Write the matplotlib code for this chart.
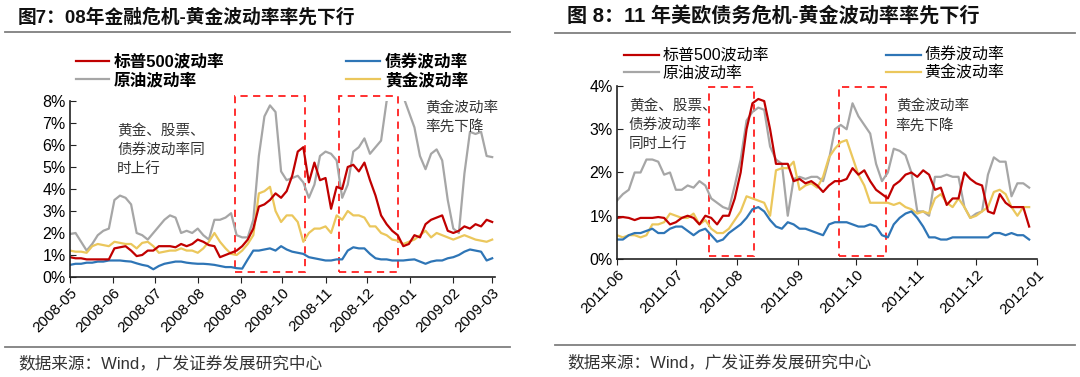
import matplotlib
matplotlib.use("Agg")
import matplotlib.pyplot as plt
import matplotlib.dates as mdates
import pandas as pd
from matplotlib.lines import Line2D
from matplotlib.patches import Rectangle
from matplotlib.ticker import FuncFormatter

plt.rcParams['font.family'] = ['Liberation Sans', 'Noto Sans CJK SC']

# ---- panel 1: 2008 financial crisis (values in %, every 4 days) ----
dates_08 = pd.date_range('2008-05-01', '2009-03-01', freq='4D')
spx_08 = [0.9, 0.85, 0.85, 0.8, 0.8, 0.8, 0.8, 0.8, 1.3, 1.35, 1.4, 1.2, 0.95, 1.0, 1.2, 1.2,
          1.4, 1.4, 1.4, 1.35, 1.5, 1.4, 1.5, 1.7, 1.6, 1.45, 1.4, 0.9, 1.0, 1.1, 1.2, 1.4,
          1.7, 2.2, 3.2, 3.3, 3.5, 3.8, 3.6, 3.9, 4.6, 5.7, 5.9, 4.3, 5.2, 4.4, 4.5, 3.1,
          4.1, 4.0, 5.0, 5.1, 4.8, 5.2, 4.4, 3.7, 2.8, 2.4, 2.1, 1.9, 1.4, 1.5, 1.9, 1.8,
          2.4, 2.6, 2.7, 2.8, 2.1, 2.0, 2.1, 2.3, 2.2, 2.4, 2.3, 2.6, 2.5]
bond_08 = [0.55, 0.6, 0.6, 0.65, 0.65, 0.7, 0.7, 0.75, 0.75, 0.75, 0.72, 0.7, 0.62, 0.55, 0.5, 0.35,
           0.5, 0.6, 0.65, 0.7, 0.7, 0.65, 0.62, 0.6, 0.6, 0.58, 0.55, 0.5, 0.45, 0.45, 0.4, 0.38,
           0.8, 1.2, 1.2, 1.25, 1.3, 1.2, 1.4, 1.25, 1.15, 1.1, 1.05, 0.9, 0.85, 0.8, 0.75, 0.75,
           0.8, 0.8, 1.2, 1.35, 1.3, 1.3, 1.05, 0.85, 0.8, 0.8, 0.75, 0.75, 0.75, 0.78, 0.8, 0.7,
           0.6, 0.7, 0.75, 0.75, 0.85, 0.9, 1.0, 1.15, 1.25, 1.2, 1.15, 0.75, 0.85]
oil_08 = [1.95, 2.0, 1.6, 1.2, 1.5, 1.9, 2.1, 2.2, 3.5, 3.7, 3.6, 3.3, 2.0, 1.9, 1.7, 2.0,
          2.3, 2.6, 2.8, 2.7, 2.0, 2.1, 2.0, 2.2, 1.9, 1.7, 2.6, 2.6, 2.7, 2.9, 1.9, 1.8,
          1.8, 2.6, 5.5, 7.3, 7.8, 7.5, 4.8, 4.4, 4.5, 4.6, 4.3, 3.6, 4.2, 5.5, 5.7, 5.6,
          5.3, 3.6, 4.2, 5.7, 5.9, 6.3, 5.6, 5.9, 6.2, 8.0, 8.3, 8.4, 8.2, 7.5, 6.8, 5.5,
          4.9, 5.6, 5.8, 5.3, 3.5, 2.2, 2.0, 4.7, 6.6, 6.5, 6.6, 5.5, 5.45]
gold_08 = [1.2, 1.15, 1.15, 1.1, 1.4, 1.5, 1.45, 1.4, 1.6, 1.55, 1.5, 1.5, 1.3, 1.55, 1.6, 1.4,
           1.1, 1.15, 1.2, 1.2, 1.3, 1.2, 1.2, 1.1, 1.3, 1.6, 2.0, 1.6, 1.3, 1.05, 1.0, 1.2,
           1.5, 1.9, 3.8, 3.9, 4.1, 3.0, 2.5, 2.8, 2.8, 2.5, 1.6, 2.0, 2.2, 2.2, 2.3, 2.0,
           2.8, 2.6, 3.0, 2.8, 2.8, 2.7, 2.3, 2.3, 2.0, 1.9, 1.7, 1.65, 1.5, 1.6, 1.7, 1.9,
           2.1, 1.8, 2.0, 1.9, 1.8, 1.7, 1.8, 1.9, 1.8, 1.7, 1.65, 1.6, 1.7]
boxes_08 = [('2008-08-28', '2008-10-17'), ('2008-11-11', '2008-12-23')]

# ---- panel 2: 2011 debt crisis (values in %, every 3 days) ----
dates_11 = pd.date_range('2011-06-01', '2011-12-29', freq='3D')
spx_11 = [0.95, 0.97, 0.95, 0.9, 0.95, 0.95, 0.95, 0.97, 0.95, 0.8, 0.85, 0.95, 1.0, 0.95, 0.8, 1.0,
          0.95, 0.8, 1.0, 1.0, 1.4, 2.0, 3.0, 3.6, 3.7, 3.65, 3.0, 2.2, 2.2, 2.2, 1.8, 1.85,
          1.75, 1.8, 1.7, 1.55, 1.7, 1.8, 1.8, 1.85, 2.1, 1.95, 2.05, 1.8, 1.6, 1.5, 1.4, 1.7,
          1.8, 1.95, 2.0, 1.9, 2.05, 1.95, 1.6, 1.65, 1.25, 1.4, 1.4, 2.0, 1.85, 1.75, 1.7, 1.1,
          1.05, 1.5, 1.3, 1.2, 1.2, 1.2, 0.75]
bond_11 = [0.45, 0.45, 0.55, 0.6, 0.6, 0.65, 0.7, 0.6, 0.6, 0.7, 0.75, 0.75, 0.65, 0.55, 0.65, 0.7,
           0.55, 0.4, 0.45, 0.6, 0.7, 0.8, 0.95, 1.15, 1.2, 1.1, 0.9, 0.75, 0.7, 0.85, 0.8, 0.7,
           0.7, 0.65, 0.6, 0.55, 0.8, 0.85, 0.85, 0.85, 0.8, 0.75, 0.75, 0.8, 0.75, 0.55, 0.5, 0.8,
           0.95, 1.05, 1.1, 0.95, 0.75, 0.5, 0.5, 0.45, 0.45, 0.5, 0.5, 0.5, 0.5, 0.5, 0.5, 0.5,
           0.6, 0.6, 0.55, 0.6, 0.55, 0.55, 0.45]
oil_11 = [1.35, 1.5, 1.6, 2.0, 2.0, 2.3, 2.3, 2.25, 1.95, 2.0, 1.6, 1.6, 1.7, 1.65, 1.8, 1.7,
          1.4, 1.3, 1.2, 1.15, 1.7, 2.3, 3.2, 3.4, 3.5, 3.45, 2.6, 2.3, 2.2, 1.0, 1.85, 1.9,
          1.85, 1.9, 1.9, 1.8, 2.3, 3.0, 3.1, 3.0, 3.6, 3.3, 3.1, 2.9, 2.2, 1.8, 2.0, 2.55,
          2.5, 2.4, 2.0, 1.1, 1.1, 1.0, 1.9, 1.9, 1.95, 1.9, 1.9, 1.2, 0.95, 1.05, 1.1, 1.95,
          2.35, 2.25, 2.25, 1.45, 1.75, 1.75, 1.65]
gold_11 = [0.55, 0.5, 0.55, 0.55, 0.5, 0.55, 0.8, 0.8, 0.85, 1.05, 1.0, 0.95, 0.95, 1.05, 0.8, 0.9,
           0.7, 0.6, 0.6, 0.7, 0.9, 1.1, 1.45, 1.4, 1.35, 1.3, 1.0, 2.05, 2.1, 2.1, 2.25, 1.6,
           1.7, 1.75, 1.65, 1.9, 2.35, 2.55, 2.7, 2.75, 2.35, 1.95, 1.7, 1.3, 1.3, 1.3, 1.3, 1.25,
           1.3, 1.2, 1.15, 1.05, 1.1, 1.05, 1.4, 1.5, 1.3, 1.2, 1.4, 1.2, 0.95, 1.0, 1.1, 1.2,
           1.55, 1.6, 1.5, 1.2, 1.0, 1.2, 1.2]
boxes_11 = [('2011-07-18', '2011-08-10'), ('2011-09-22', '2011-10-16')]

series_names = ['标普500波动率', '原油波动率', '债券波动率', '黄金波动率']
colors = ['#C00000', '#A6A6A6', '#2E75B6', '#EBC75C']

fig = plt.figure(figsize=(10.8, 3.77), dpi=100)


def draw_panel(rect, dates, spx, oil, bond, gold, boxes, ymax, box_y, xlim):
    ax = fig.add_axes(rect)
    for vals, c in zip([oil, gold, bond, spx], [colors[1], colors[3], colors[2], colors[0]]):
        ax.plot(dates, vals, color=c, lw=1.6)
    for d0, d1 in boxes:
        x0 = mdates.date2num(pd.Timestamp(d0))
        x1 = mdates.date2num(pd.Timestamp(d1))
        ax.add_patch(Rectangle((x0, box_y[0]), x1 - x0, box_y[1] - box_y[0], fill=False,
                               ec='#FF2020', ls=(0, (4, 3)), lw=1.3, clip_on=False))
    ax.set_xlim(pd.Timestamp(xlim[0]), pd.Timestamp(xlim[1]))
    ax.set_ylim(0, ymax)
    ax.set_yticks(range(0, ymax + 1))
    ax.yaxis.set_major_formatter(FuncFormatter(lambda v, p: f'{v:.0f}%'))
    ax.xaxis.set_major_locator(mdates.MonthLocator())
    ax.xaxis.set_major_formatter(mdates.DateFormatter('%Y-%m'))
    for s in ['top', 'right']:
        ax.spines[s].set_visible(False)
    for s in ['left', 'bottom']:
        ax.spines[s].set_color('#222222')
        ax.spines[s].set_linewidth(1.2)
    ax.tick_params(axis='y', direction='in', length=4, labelsize=11.5, pad=3, color='#222222')
    ax.tick_params(axis='x', direction='out', length=4, labelsize=11, pad=2, color='#222222')
    for lab in ax.get_xticklabels():
        lab.set_rotation(45)
        lab.set_ha('right')
        lab.set_rotation_mode('anchor')
    return ax


ax1 = draw_panel([0.0648, 0.2653, 0.3935, 0.4668], dates_08, spx_08, oil_08, bond_08, gold_08,
                 boxes_08, 8, (0.23, 8.23), ('2008-05-01', '2009-03-03'))
ax2 = draw_panel([0.5713, 0.3130, 0.3889, 0.4589], dates_11, spx_11, oil_11, bond_11, gold_11,
                 boxes_11, 4, (0.08, 3.97), ('2011-06-01', '2012-01-01'))

# annotations
note_kw = dict(fontsize=10.5, color='#333333', va='top', linespacing=1.45, family='Noto Sans CJK SC')
ax1.text(mdates.date2num(pd.Timestamp('2008-06-04')), 6.95, '黄金、股票、\n债券波动率同\n时上行', **note_kw)
ax1.text(mdates.date2num(pd.Timestamp('2009-01-12')), 8.0, '黄金波动率\n率先下降', **note_kw)
ax2.text(mdates.date2num(pd.Timestamp('2011-06-07')), 3.7, '黄金、股票、\n债券波动率\n同时上行', **note_kw)
ax2.text(mdates.date2num(pd.Timestamp('2011-10-21')), 3.68, '黄金波动率\n率先下降', **note_kw)

# legends
handles = [Line2D([0], [0], color=c, lw=1.6) for c in colors]
fig.legend(handles, series_names, ncol=2, loc='upper left', bbox_to_anchor=(0.064, 0.875),
           frameon=False, handlelength=2.0, handletextpad=0.3,
           columnspacing=7.3, labelspacing=0.15, borderaxespad=0,
           prop={'family': ['Liberation Sans', 'Noto Sans CJK SC'], 'weight': 'bold', 'size': 12})
fig.legend(handles, series_names, ncol=2, loc='upper left', bbox_to_anchor=(0.572, 0.89),
           frameon=False, handlelength=2.2, handletextpad=0.2,
           columnspacing=7.3, labelspacing=0.15, borderaxespad=0,
           prop={'family': ['Liberation Sans', 'Noto Sans CJK SC'], 'size': 11.5})

# titles, rules, sources
fig.text(18 / 1080, 1 - 17 / 377, '图7：08年金融危机-黄金波动率率先下行', fontsize=13.5,
         fontweight='bold', va='center', color='#111111')
fig.text(567 / 1080, 1 - 17 / 377, '图 8：11 年美欧债务危机-黄金波动率率先下行', fontsize=14.5,
         fontweight='bold', va='center', color='#111111')
for x0, x1, yt, yb in [(5, 510, 32, 347), (555, 1075, 33, 345)]:
    for yy in (yt, yb):
        fig.add_artist(Line2D([x0 / 1080, x1 / 1080], [1 - yy / 377, 1 - yy / 377],
                              color='#7F7F7F', lw=1.3))
fig.text(18 / 1080, 1 - 363 / 377, '数据来源：Wind，广发证券发展研究中心', fontsize=12,
         va='center', color='#333333')
fig.text(567 / 1080, 1 - 362 / 377, '数据来源：Wind，广发证券发展研究中心', fontsize=12,
         va='center', color='#333333')

fig.savefig('out.png', dpi=100)
